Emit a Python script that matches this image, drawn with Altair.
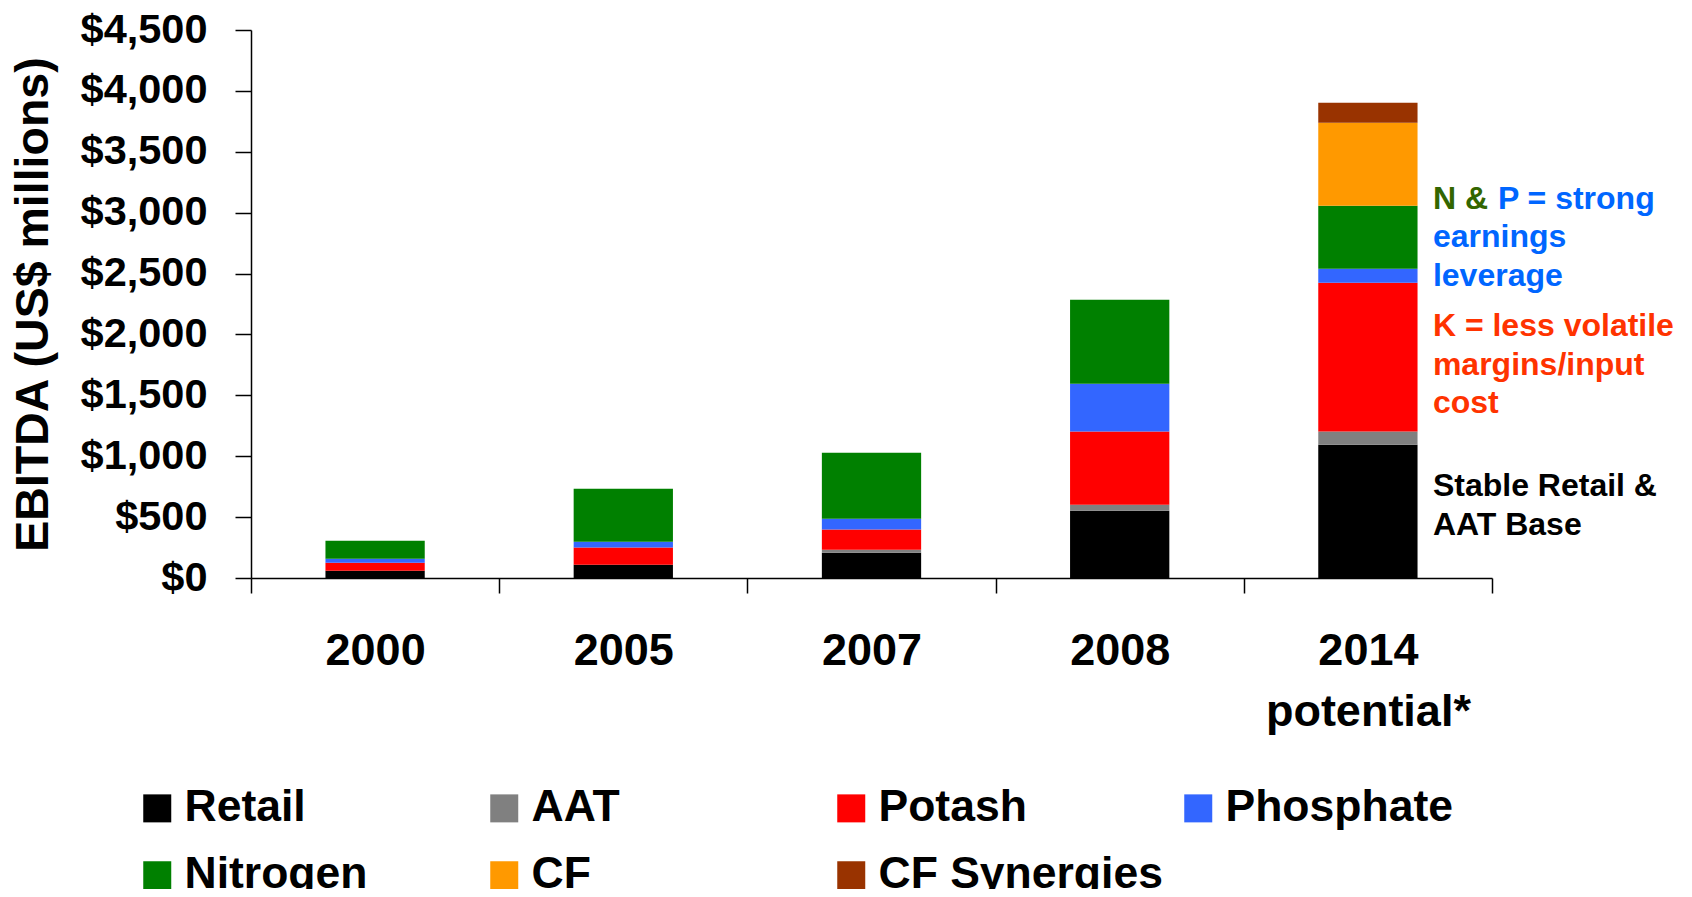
import altair as alt
import pandas as pd

years = ["2000", "2005", "2007", "2008", "2014 potential*"]
segments = ["Retail", "AAT", "Potash", "Phosphate", "Nitrogen", "CF", "CF Synergies"]
colors = ["#000000", "#808080", "#ff0000", "#3366ff", "#008000", "#ff9900", "#993300"]

retail = [60, 109, 208, 553, 1094]
aat = [0, 0, 24, 49, 110]
potash = [65, 142, 167, 602, 1220]
phosphate = [33, 47, 88, 392, 115]
nitrogen = [148, 435, 542, 689, 518]
cf = [0, 0, 0, 0, 681]
cf_syn = [0, 0, 0, 0, 164]
series = [retail, aat, potash, phosphate, nitrogen, cf, cf_syn]

rows = []
for si, (seg, vals) in enumerate(zip(segments, series)):
    for yr, v in zip(years, vals):
        rows.append({"year": yr, "segment": seg, "value": v, "order": si})
df = pd.DataFrame(rows)

# annotation notes (text lines, anchored at data values on the 2014 bar)
note_groups = [
    (["N &"], [3030], "#336600", 0),
    (["P = strong"], [3030], "#0066ff", 65),
    (["earnings", "leverage"], [2714, 2398], "#0066ff", 0),
    (["K = less volatile", "margins/input", "cost"], [1987, 1671, 1355], "#ff3300", 0),
    (["Stable Retail &", "AAT Base"], [672, 355], "#000000", 0),
]

FONT = "Liberation Sans"
xscale = alt.Scale(domain=years, paddingInner=0, paddingOuter=0)
yscale = alt.Scale(domain=[0, 4500])

x_axis = alt.Axis(
    title=None,
    tickBand="extent",
    labelExpr="split(datum.label, ' ')",
    labelAngle=0,
    labelFontSize=45,
    labelFontWeight="bold",
    labelColor="black",
    labelPadding=35,
    labelLineHeight=61,
    labelLimit=400,
    tickSize=15,
    tickColor="black",
    tickWidth=1.5,
    domainColor="black",
    domainWidth=1.5,
    grid=False,
)
y_axis = alt.Axis(
    title="EBITDA (US$ millions)",
    titleFontSize=46.5,
    titleFontWeight="bold",
    titleColor="black",
    titlePadding=23,
    values=list(range(0, 4501, 500)),
    format="$,.0f",
    labelFontSize=41.5,
    labelFontWeight="bold",
    labelColor="black",
    labelPadding=28,
    tickSize=16,
    tickColor="black",
    tickWidth=1.5,
    domainColor="black",
    domainWidth=1.5,
    grid=False,
)

bars = alt.Chart(df).mark_bar(width=alt.RelativeBandSize(0.4)).encode(
    x=alt.X("year:N", scale=xscale, axis=x_axis),
    y=alt.Y("value:Q", stack="zero", scale=yscale, axis=y_axis),
    color=alt.Color(
        "segment:N",
        scale=alt.Scale(domain=segments, range=colors),
        legend=alt.Legend(
            orient="none",
            legendX=-116,
            legendY=756,
            direction="horizontal",
            columns=4,
            title=None,
            symbolType="square",
            symbolSize=784,
            symbolStrokeWidth=0,
            labelFontSize=44.5,
            labelFontWeight="bold",
            labelColor="black",
            labelOffset=5,
            labelLimit=600,
            columnPadding=13,
            rowPadding=22,
            gridAlign="all",
            padding=0,
            symbolOffset=0,
        ),
    ),
    order=alt.Order("order:Q", sort="ascending"),
)

layers = [bars]
for texts, vals, col, shift in note_groups:
    ndf = pd.DataFrame({"year": [years[-1]] * len(texts), "text": texts, "v": vals})
    layers.append(
        alt.Chart(ndf)
        .mark_text(
            align="left",
            baseline="alphabetic",
            dx=65 + shift,
            fontSize=32,
            fontWeight="bold",
            color=col,
        )
        .encode(
            x=alt.X("year:N", scale=xscale, axis=x_axis),
            y=alt.Y("v:Q", scale=yscale, axis=y_axis),
            text="text:N",
        )
    )

chart = (
    alt.layer(*layers)
    .properties(
        width=1241,
        height=548,
        autosize=alt.AutoSizeParams(type="none"),
        padding={"left": 243, "top": 22, "right": 184, "bottom": 311},
    )
    .configure(font=FONT)
    .configure_view(stroke="transparent", strokeWidth=0)
)

chart.save("out.html", embed_options={"renderer": "svg", "actions": False})
